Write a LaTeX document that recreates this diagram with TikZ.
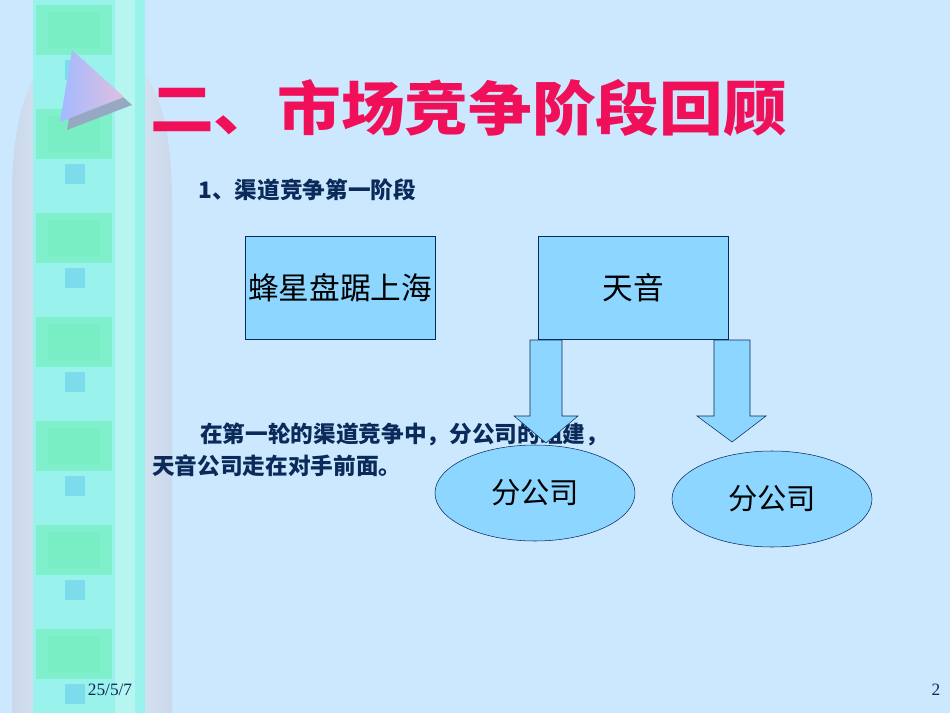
\documentclass[tikz,border=0pt]{standalone}
\usepackage{fontspec}
\setmainfont{Liberation Serif}
\newfontfamily\cjk{Noto Sans CJK SC}
\newfontfamily\cjkb{Noto Sans CJK SC Black}
\definecolor{bgblue}{HTML}{CCE8FF}
\definecolor{boxblue}{HTML}{8CD6FF}
\definecolor{navy}{HTML}{0A2A5A}
\definecolor{titlered}{HTML}{F0105A}
\definecolor{pillar}{HTML}{A8BEDC}
\definecolor{tilegreen}{HTML}{70EEB8}
\definecolor{tilecyan}{HTML}{99F2EC}
\usetikzlibrary{shapes.geometric}
\tikzset{
  box/.style={draw=navy,fill=boxblue,minimum width=142.5pt,minimum height=77pt,inner sep=0pt,font=\cjk\fontsize{23}{23}\selectfont},
  oval/.style={ellipse,draw=navy,fill=boxblue,minimum width=150pt,minimum height=72pt,font=\cjk\fontsize{22}{22}\selectfont},
  blockarrow/.style={draw=navy,fill=boxblue},
  note/.style={anchor=west,text=navy,font=\cjk\bfseries\fontsize{17}{17}\selectfont,inner sep=0pt}
}
\begin{document}
\begin{tikzpicture}[x=0.75pt,y=-0.75pt]
%background
\fill[bgblue] (0,0) rectangle (950,713);
\useasboundingbox (0,0) rectangle (950,713);

%left pillar
\shade[left color=pillar!60,right color=pillar!60,middle color=bgblue!60]
  (12,713) -- (12,200) .. controls (12,90) and (40,45) .. (90,45)
  .. controls (140,45) and (172,90) .. (172,200) -- (172,713) -- cycle;
\fill[tilecyan] (33,0) rectangle (145,713);
\foreach \y in {0,104,...,713}
  {
  \fill[tilegreen,opacity=.6] (36,\y+5) rectangle (112,\y+55);
  \fill[tilegreen,opacity=.4] (48,\y+12) rectangle (100,\y+48);
  \fill[cyan!40!tilecyan,opacity=.5] (65,\y+60) rectangle (85,\y+80);
  }
\fill[white,opacity=.3] (115,0) rectangle (135,713);

%triangle mark
\fill[pillar!60!navy!70] (79,58) -- (132,105) -- (67,130) -- cycle;
\shade[left color=blue!20!bgblue,right color=violet!25] (72,50) -- (124,97) -- (60,122) -- cycle;

%title
\node[anchor=west,text=titlered,inner sep=0pt,xscale=1.085,font=\cjkb\fontsize{44}{44}\selectfont] (title) at (150,108) {二、市场竞争阶段回顾};
\node[note] (sub) at (198,190) {1、渠道竞争第一阶段};

%body text
\node[note] (line1) at (200,434) {在第一轮的渠道竞争中，分公司的组建，};
\node[note] (line2) at (152,466) {天音公司走在对手前面。};

%boxes
\node[box] (fengxing) at (340,288) {蜂星盘踞上海};
\node[box] (tianyin) at (633,288) {天音};

%block arrows
\draw[blockarrow] (530,340) -- (530,416) -- (514,416) -- (546,443) -- (578,416) -- (562,416) -- (562,340) -- cycle;
\draw[blockarrow] (714,340) -- (714,416) -- (697,416) -- (732,442) -- (766,416) -- (750,416) -- (750,340) -- cycle;

%offices
\node[oval] (office1) at (535,493) {分公司};
\node[oval] (office2) at (772,499) {分公司};

%footer
\node[text=navy,font=\fontsize{13}{13}\selectfont] (date) at (110,690) {25/5/7};
\node[text=navy,font=\fontsize{13}{13}\selectfont] (page) at (936,690) {2};
\end{tikzpicture}
\end{document}
